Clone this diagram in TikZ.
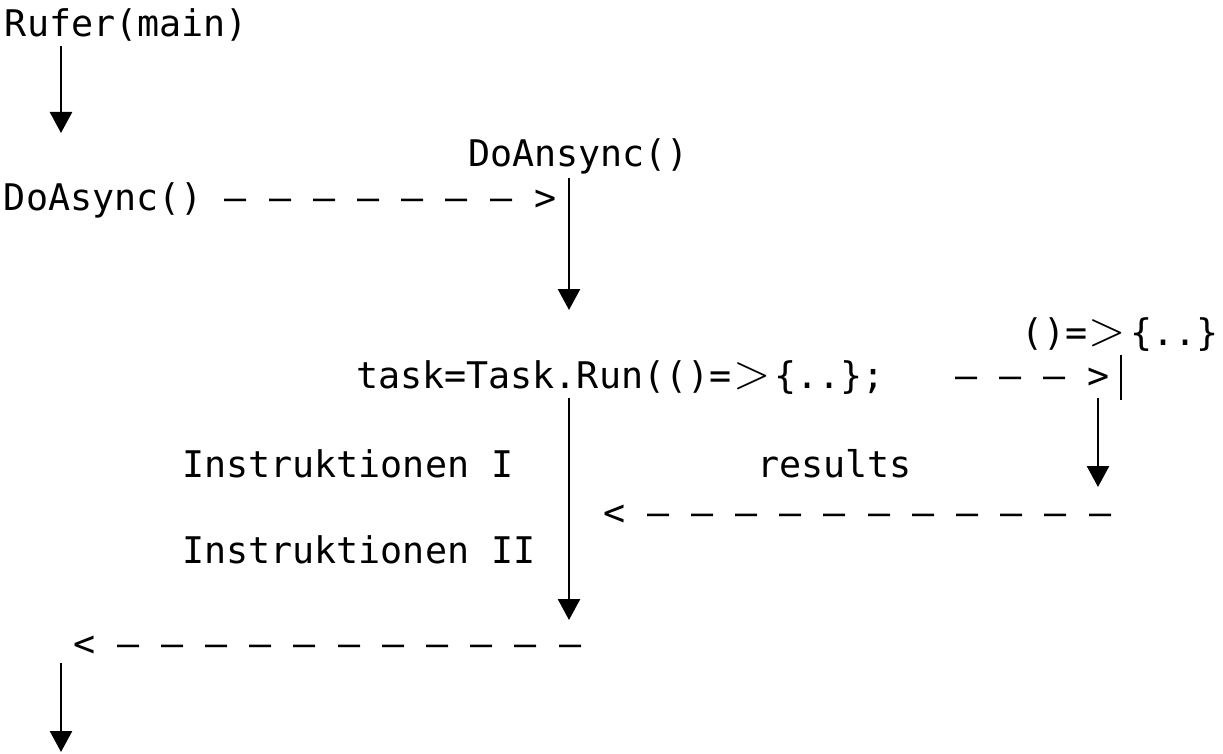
\documentclass[tikz,border=0pt]{standalone}
\usepackage{fontspec}
\setmonofont{DejaVu Sans Mono}
\usetikzlibrary{arrows.meta}
\newcommand\bigGT{\kern1.5pt{\rmfamily\fontsize{49}{49}\selectfont >}\kern4pt}
\tikzset{
  lbl/.style={anchor=base west, inner sep=0pt, outer sep=0pt,
              font=\ttfamily\fontsize{36.7}{40}\selectfont},
  flow/.style={line width=2.6pt, -{Triangle[width=22pt,length=21pt]}},
  barline/.style={line width=2.6pt}
}
\begin{document}
\begin{tikzpicture}[x=1pt,y=-1pt]
\useasboundingbox (0,0) rectangle (1223,754);
% texts
\node[lbl] (rufer) at (5,36.5) {Rufer(main)};
\node[lbl] (doasync) at (4,211) {DoAsync() — — — — — — — >};
\node[lbl] (doansync) at (468,167) {DoAnsync()};
\node[lbl] (task) at (356,388) {task=Task.Run(()=\bigGT\{..\};};
\node[lbl, anchor=base east] (taskcall) at (1110,388) {— — — >};
\node[lbl] (lambda) at (1021,345) {()=\bigGT\{..\}};
\node[lbl] (instr1) at (182,477) {Instruktionen I};
\node[lbl] (instr2) at (182,563) {Instruktionen II};
\node[lbl] (results) at (757,477) {results};
\node[lbl] (ret1) at (603,525) {< — — — — — — — — — — —};
\node[lbl] (ret2) at (73,656) {< — — — — — — — — — — —};
% connector end points
\coordinate (a1s) at (61,46);   \coordinate (a1e) at (61,133);
\coordinate (a2s) at (569,178); \coordinate (a2e) at (569,310);
\coordinate (a3s) at (569,398); \coordinate (a3e) at (569,620);
\coordinate (a4s) at (1098,398);\coordinate (a4e) at (1098,487);
\coordinate (a5s) at (61,663);  \coordinate (a5e) at (61,752);
\coordinate (b1s) at (1121,355);\coordinate (b1e) at (1121,400);
% connectors
\draw[flow] (a1s) -- (a1e);
\draw[flow] (a2s) -- (a2e);
\draw[flow] (a3s) -- (a3e);
\draw[flow] (a4s) -- (a4e);
\draw[flow] (a5s) -- (a5e);
\draw[barline] (b1s) -- (b1e);
\end{tikzpicture}
\end{document}
